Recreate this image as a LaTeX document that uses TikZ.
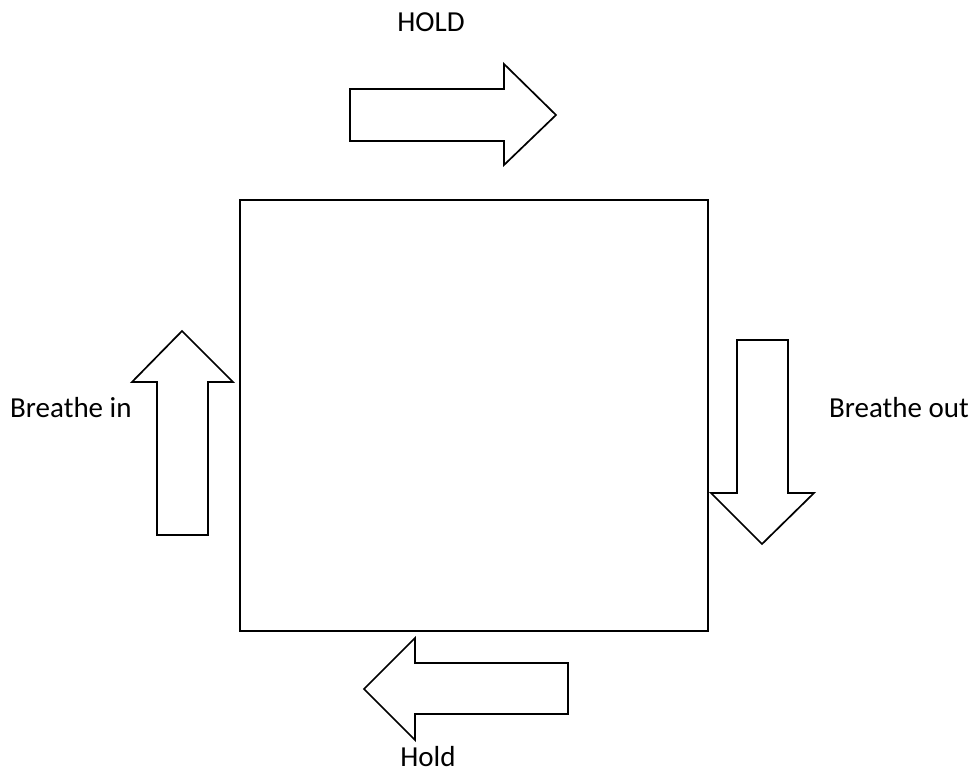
\documentclass[tikz,border=0pt]{standalone}
\usepackage{fontspec}
\setmainfont{Carlito}
\begin{document}
\begin{tikzpicture}[x=1pt,y=-1pt,
  blockarrow/.style={draw=black,line width=1.7pt,line join=miter,fill=white},
  frame/.style={draw=black,line width=2.3pt},
  label/.style={font=\fontsize{29}{35}\selectfont,inner sep=0pt}]
\useasboundingbox (0,0) rectangle (974,779);
% central square
\node[frame,minimum width=468pt,minimum height=431pt,inner sep=0pt,anchor=north west] (box) at (239,199) {};
% top arrow pointing right
\draw[blockarrow] (350,89) -- (504,89) -- (504,64) -- (556,115) -- (504,165) -- (504,141) -- (350,141) -- cycle;
% left arrow pointing up
\draw[blockarrow] (157,535) -- (157,382) -- (132,382) -- (182,331) -- (233,382) -- (208,382) -- (208,535) -- cycle;
% right arrow pointing down
\draw[blockarrow] (737,340) -- (788,340) -- (788,493) -- (814,493) -- (762,544) -- (711,493) -- (737,493) -- cycle;
% bottom arrow pointing left
\draw[blockarrow] (568,663) -- (415,663) -- (415,638) -- (364,689) -- (415,740) -- (415,714) -- (568,714) -- cycle;
% labels
\node[label,anchor=base] (t1) at (431,31) {HOLD};
\node[label,anchor=base west] (t2) at (10,417) {Breathe in};
\node[label,anchor=base east] (t3) at (969,417) {Breathe out};
\node[label,anchor=base] (t4) at (428,766) {Hold};
\end{tikzpicture}
\end{document}
